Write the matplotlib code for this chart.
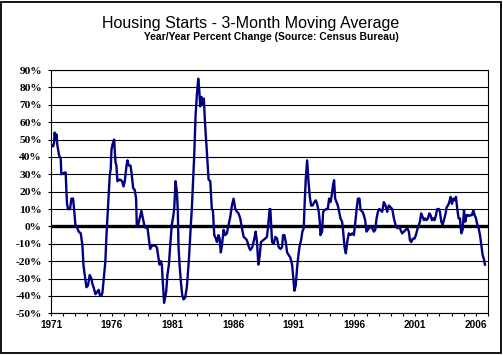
import matplotlib
matplotlib.use("Agg")
import matplotlib.pyplot as plt
from matplotlib.patches import Rectangle
from matplotlib.ticker import MultipleLocator, FixedLocator

# Decimal year of each reading
years = [
    1971.03, 1971.17, 1971.25, 1971.30, 1971.39, 1971.44, 1971.52, 1971.66, 1971.80, 1971.85,
    1971.99, 1972.13, 1972.21, 1972.27, 1972.32, 1972.40, 1972.57, 1972.68, 1972.82, 1972.90,
    1973.01, 1973.17, 1973.28, 1973.45, 1973.59, 1973.67, 1973.78, 1973.92, 1974.05, 1974.19,
    1974.33, 1974.41, 1974.55, 1974.66, 1974.82, 1974.93, 1975.02, 1975.15, 1975.24, 1975.35,
    1975.48, 1975.57, 1975.70, 1975.84, 1975.92, 1975.98, 1976.06, 1976.20, 1976.31, 1976.39,
    1976.47, 1976.67, 1976.86, 1976.97, 1977.08, 1977.22, 1977.30, 1977.41, 1977.55, 1977.63,
    1977.77, 1977.90, 1978.01, 1978.07, 1978.18, 1978.32, 1978.45, 1978.56, 1978.73, 1978.95,
    1979.06, 1979.17, 1979.33, 1979.55, 1979.72, 1979.83, 1979.94,
    1980.05, 1980.13, 1980.21, 1980.32, 1980.40, 1980.49, 1980.59, 1980.71, 1980.82, 1980.95,
    1981.03, 1981.15, 1981.26, 1981.37, 1981.45, 1981.50, 1981.59, 1981.70, 1981.81, 1981.92,
    1982.05, 1982.19, 1982.33, 1982.41, 1982.52, 1982.60, 1982.69, 1982.80, 1982.91, 1983.01,
    1983.13, 1983.21, 1983.29, 1983.40, 1983.51, 1983.59, 1983.70, 1983.84, 1983.98, 1984.12,
    1984.17, 1984.25, 1984.34, 1984.45, 1984.58, 1984.67, 1984.80, 1984.89, 1984.99, 1985.08,
    1985.22, 1985.35, 1985.49, 1985.63, 1985.77, 1985.90, 1986.04, 1986.18, 1986.32, 1986.45,
    1986.59, 1986.73, 1986.87, 1987.03, 1987.14, 1987.31, 1987.42, 1987.58, 1987.75, 1987.86,
    1987.97, 1988.08, 1988.19, 1988.30, 1988.46, 1988.65, 1988.79, 1988.90, 1989.01,
    1989.07, 1989.21, 1989.35, 1989.48, 1989.62, 1989.76, 1989.90, 1990.03, 1990.12, 1990.23,
    1990.34, 1990.45, 1990.58, 1990.72, 1990.86, 1990.94, 1991.05, 1991.16, 1991.27, 1991.38,
    1991.49, 1991.60, 1991.71, 1991.82, 1991.90, 1991.99, 1992.10, 1992.21, 1992.32, 1992.43,
    1992.54, 1992.70, 1992.81, 1992.92, 1993.06, 1993.14, 1993.20, 1993.33, 1993.42, 1993.53,
    1993.69, 1993.80, 1993.91, 1994.02, 1994.13, 1994.24, 1994.32, 1994.41, 1994.52, 1994.63,
    1994.74, 1994.85, 1994.98, 1995.07, 1995.18, 1995.29, 1995.40, 1995.53, 1995.67, 1995.81,
    1995.95, 1996.06, 1996.17, 1996.28, 1996.41, 1996.50, 1996.66, 1996.77, 1996.88, 1996.99,
    1997.10, 1997.21, 1997.32, 1997.46, 1997.60, 1997.71, 1997.82, 1997.93, 1998.04, 1998.15,
    1998.28, 1998.42, 1998.56, 1998.70, 1998.83, 1998.97, 1999.11, 1999.25, 1999.38, 1999.52,
    1999.66, 1999.80, 1999.93, 2000.07, 2000.21, 2000.35, 2000.48, 2000.57, 2000.68, 2000.81,
    2000.95, 2001.06, 2001.17, 2001.31, 2001.39, 2001.50, 2001.61, 2001.72, 2001.83, 2001.94,
    2002.05, 2002.16, 2002.27, 2002.38, 2002.49, 2002.60, 2002.71, 2002.82, 2002.96, 2003.04,
    2003.15, 2003.26, 2003.37, 2003.51, 2003.59, 2003.70, 2003.81, 2003.92, 2004.03, 2004.14,
    2004.25, 2004.36, 2004.47, 2004.58, 2004.69, 2004.80, 2004.91, 2005.02, 2005.13, 2005.24,
    2005.35, 2005.46, 2005.57, 2005.68, 2005.79, 2005.90, 2006.01, 2006.12, 2006.23, 2006.34,
    2006.45, 2006.56, 2006.67, 2006.75,
]

# Year/year percent change, 3-month moving average
pct_change = [
    47, 46, 48, 54, 50, 53, 47, 41, 39, 30,
    30.5, 31, 31, 20, 13, 10, 10, 16, 16, 10,
    1, -1, -3, -4, -11, -22, -28, -35, -34, -28,
    -30, -33, -36, -39, -37.5, -36.5, -39.5, -40, -38, -30,
    -20, -5, 12, 29.5, 33, 44, 47, 50, 37, 35,
    26, 27, 26, 23, 26, 35, 38, 35, 35, 31,
    22, 21, 16, 0, 1, 5, 9, 5, -0.5, -1,
    -7, -13, -11, -11, -12, -17, -22,
    -20, -22, -32, -44, -41, -37.5, -28, -22, -11, 1,
    4, 10, 26, 20, 8.4, -11, -22, -32, -39.5, -42,
    -41, -35, -22, -13, 1, 10, 24, 41, 64, 75,
    85, 79, 69, 74.5, 70, 73.5, 58, 43, 27, 26,
    20, 10, 9, -5, -7, -9, -5, -7, -15, -11,
    -2, -5, -4, 1, 5.5, 12, 16, 10, 8.4, 7.5,
    4.6, -1, -6, -7, -8, -12, -13.6, -12, -7, -3,
    -9, -22, -17, -9, -8, -7, -6, 1, 10,
    10, -9, -10, -6, -7, -12, -13, -12, -5, -5,
    -9, -15, -16.5, -18, -22, -28, -37, -34, -24, -16.5,
    -11, -8, -3, -1, 14, 27.6, 38, 26, 17, 12,
    12, 14, 15, 13, 8.4, 2.7, -5, -3, 8.4, 9.4,
    10, 10, 16, 14, 18, 24, 26.6, 16, 14, 12,
    8.4, 4.6, 2.7, -3, -12, -15.5, -9, -4, -5, -4,
    -5, 1.7, 9.4, 16, 16, 9.4, 8.4, 6.5, 3.6, -3,
    -2, -1, 0, -1, -3, -2, 4.6, 8.4, 10, 9.4,
    8.4, 14, 12, 8.4, 12, 11, 10, 4.6, 1, -1,
    0, -2, -4, -3, -2, -1, -3, -8, -9, -7,
    -7, -5, -2, 1, 2.7, 7.5, 5.5, 3.6, 4.6, 3.6,
    4.6, 7.5, 6.5, 3.6, 4.6, 3.6, 6.5, 10, 10, 8.4,
    2.7, 1, 3.6, 7.5, 11, 12, 14, 17, 13, 16,
    15, 17, 10, 4.6, 4.6, -4, -2, 9.4, 2.7, 6.5,
    6.5, 6, 6.5, 6.5, 9.4, 6.5, 4.6, 1, -1, -5,
    -11, -16.5, -19, -22,
]

y_ticks = list(range(-50, 91, 10))
y_tick_labels = [f"{v}%" for v in y_ticks]
x_label_years = list(range(1971, 2007, 5))
x_tick_labels = [str(y) for y in x_label_years]

title = "Housing Starts - 3-Month Moving Average"
subtitle = "Year/Year Percent Change (Source: Census Bureau)"

W, H = 503, 355
fig = plt.figure(figsize=(W / 100, H / 100), dpi=100)
fig.patch.set_facecolor("white")

# outer chart border
fig.patches.append(Rectangle((1 / W, 2 / H), 500 / W, 351 / H, transform=fig.transFigure,
                             fill=False, edgecolor="black", linewidth=1.3))

ax = fig.add_axes([51 / W, (H - 313.3) / H, 437 / W, 243.3 / H])
ax.set_facecolor("white")

ax.plot(years, pct_change, color="#000080", linewidth=1.7, zorder=3)
ax.axhline(0, color="black", linewidth=2.4, zorder=2)

ax.set_xlim(1971, 2007)
ax.set_ylim(-50, 90)

ax.set_yticks(y_ticks)
ax.set_yticklabels(y_tick_labels, fontfamily="Liberation Serif", fontweight="bold", fontsize=8.2)
ax.yaxis.grid(True, color="black", linewidth=0.8, zorder=1)
ax.set_axisbelow(True)

ax.xaxis.set_major_locator(FixedLocator(x_label_years))
ax.set_xticklabels(x_tick_labels, fontfamily="Liberation Sans", fontweight="bold", fontsize=7.2)
ax.xaxis.set_minor_locator(MultipleLocator(1))

ax.tick_params(axis="y", direction="out", length=2.5, width=0.8, pad=4, colors="black")
ax.tick_params(axis="x", which="both", direction="out", length=2.5, width=0.8, pad=2.5, colors="black")

for s in ax.spines.values():
    s.set_color("black")
    s.set_linewidth(0.8)

fig.text(251 / W, 1 - 23.5 / H, title, ha="center", va="center",
         fontfamily="Liberation Sans", fontsize=11.5, color="black")
fig.text(271 / W, 1 - 37 / H, subtitle, ha="center", va="center",
         fontfamily="Liberation Sans", fontweight="bold", fontsize=7.35, color="black")

fig.savefig("out.png", dpi=100, facecolor="white")
